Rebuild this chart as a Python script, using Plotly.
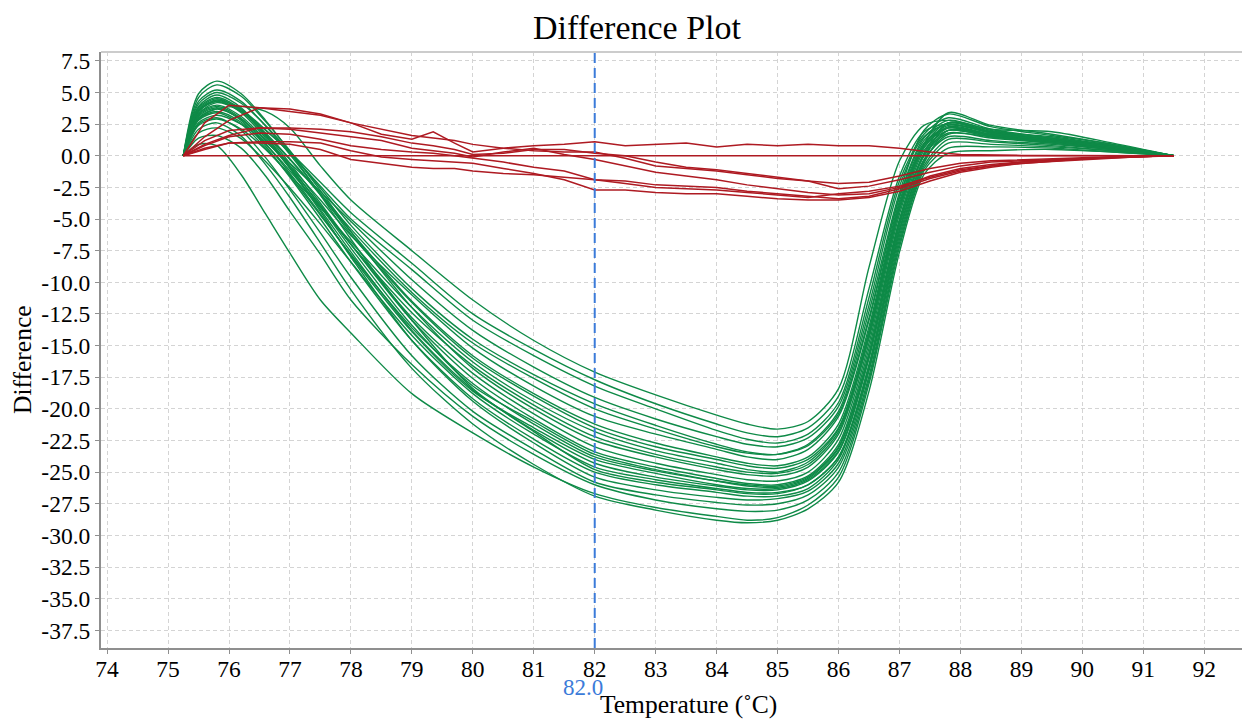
import plotly.graph_objects as go

# ---------------- data ----------------
TEMP_GREEN = [75.25, 75.5, 75.8, 76.2, 76.6, 77.0, 77.5, 78.0, 79.0, 80.0, 81.0, 82.0, 83.0,
              84.0, 84.5, 85.0, 85.5, 86.0, 86.5, 87.0, 87.4, 87.8, 88.5, 89.5, 90.5, 91.5]

G01 = [0, 2.9, 3.7, 3.9, 3.5, 2.2, -0.8, -3.5, -7.5, -11.4, -14.6, -17.1, -18.9, -20.5, -21.2, -21.6, -21.0, -18.4, -8.8, -0.4, 2.4, 2.8, 2.1, 1.9, 1.0, 0]
G02 = [0, 3.3, 4.2, 3.5, 2.0, 0.3, -2.1, -4.5, -8.5, -12.5, -15.3, -17.7, -19.6, -21.2, -21.9, -22.2, -21.5, -19.0, -10.5, -1.6, 1.9, 2.5, 1.9, 1.5, 0.8, 0]
G03 = [0, 3.5, 4.4, 3.65, 2.05, 0.2, -2.4, -5.0, -9.0, -13.0, -15.8, -18.2, -20.0, -21.7, -22.4, -22.7, -22.0, -19.5, -11.2, -2.0, 1.7, 3.0, 2.1, 1.4, 0.8, 0]
G04 = [0, 2.6, 3.2, 2.5, 1.1, -0.6, -2.85, -5.2, -9.8, -13.8, -16.7, -19.1, -20.8, -22.2, -22.8, -23.0, -22.3, -19.8, -11.8, -2.4, 1.5, 2.5, 1.8, 1.3, 0.7, 0]
G05 = [0, 4.1, 5.0, 4.15, 2.4, 0.3, -2.55, -5.5, -10.5, -14.5, -17.3, -19.6, -21.3, -22.8, -23.4, -23.6, -22.8, -20.2, -12.3, -2.9, 2.0, 3.3, 2.3, 1.6, 0.9, 0]
G06 = [0, 3.0, 3.7, 2.9, 1.2, -0.8, -3.5, -6.3, -11.0, -15.2, -18.2, -20.6, -22.0, -23.2, -23.8, -24.0, -23.2, -20.6, -13.0, -3.3, 1.2, 2.6, 1.9, 1.3, 0.7, 0]
G07 = [0, 3.5, 4.3, 3.5, 1.7, -0.3, -3.1, -6.0, -11.5, -15.8, -18.8, -21.2, -22.7, -23.8, -24.3, -24.5, -23.8, -21.2, -13.5, -3.6, 1.0, 2.2, 1.6, 1.2, 0.6, 0]
G08 = [0, 2.4, 2.9, 2.1, 0.5, -1.5, -4.1, -6.8, -12.0, -16.3, -19.4, -21.8, -23.3, -24.3, -24.8, -25.0, -24.2, -21.6, -14.0, -4.0, 0.8, 2.4, 1.8, 1.2, 0.7, 0]
G09 = [0, 4.6, 5.6, 4.7, 2.7, 0.4, -2.75, -6.0, -12.0, -16.8, -20.0, -22.5, -23.8, -24.8, -25.2, -25.3, -24.6, -22.0, -14.4, -4.3, 0.9, 3.4, 2.4, 1.7, 0.9, 0]
G10 = [0, 3.3, 4.0, 3.1, 1.25, -0.95, -3.9, -7.0, -12.8, -17.2, -20.4, -23.0, -24.3, -25.2, -25.6, -25.7, -25.0, -22.4, -14.8, -4.6, 0.6, 2.3, 1.7, 1.2, 0.6, 0]
G11 = [0, 3.8, 4.6, 3.7, 1.7, -0.6, -3.75, -7.0, -13.0, -17.6, -20.8, -23.4, -24.6, -25.5, -25.9, -26.0, -25.3, -22.8, -15.2, -5.0, 0.4, 2.0, 1.5, 1.1, 0.6, 0]
G12 = [0, 2.8, 3.4, 2.5, 0.6, -1.6, -4.7, -7.8, -13.6, -18.0, -21.2, -23.8, -24.9, -25.7, -26.0, -26.1, -25.4, -23.0, -15.6, -5.2, 0.2, 2.6, 1.9, 1.2, 0.7, 0]
G13 = [0, 3.6, 4.4, 3.4, 1.4, -1.0, -4.25, -7.6, -13.8, -18.5, -21.7, -24.3, -25.4, -26.1, -26.4, -26.4, -25.7, -23.4, -16.0, -5.5, 0.0, 1.8, 1.4, 1.0, 0.5, 0]
G14 = [0, 1.8, 2.2, 1.35, -0.45, -2.55, -5.4, -8.4, -14.2, -18.8, -22.0, -24.6, -25.6, -26.3, -26.6, -26.6, -26.0, -23.8, -16.5, -5.8, -0.3, 1.5, 1.2, 0.9, 0.5, 0]
G15 = [0, 3.1, 3.8, 2.8, 0.75, -1.7, -5.0, -8.4, -14.6, -19.2, -22.4, -25.0, -26.0, -26.6, -26.9, -26.9, -26.3, -24.0, -16.8, -6.0, -0.4, 1.7, 1.5, 1.1, 0.6, 0]
G16 = [0, 3.9, 4.8, 3.8, 1.6, -1.0, -4.4, -8.0, -14.6, -19.4, -22.7, -25.4, -26.4, -27.0, -27.2, -27.1, -26.5, -24.3, -17.0, -6.3, -0.6, 2.0, 1.6, 1.1, 0.6, 0]
G17 = [0, 2.5, 3.0, 2.0, -0.15, -2.7, -6.1, -9.6, -15.8, -20.2, -23.2, -25.8, -26.8, -27.4, -27.6, -27.5, -26.8, -24.6, -17.4, -6.6, -0.8, 1.3, 1.1, 0.8, 0.4, 0]
G18 = [0, 1.4, 1.6, 0.6, -1.6, -4.4, -7.8, -11.4, -16.5, -20.6, -23.6, -26.0, -27.2, -27.9, -28.1, -28.0, -27.2, -25.0, -17.7, -6.9, -1.0, 1.0, 0.9, 0.7, 0.4, 0]
G19 = [0, 0.9, 0.8, -1.5, -4.6, -7.7, -11.4, -14.0, -18.8, -21.9, -24.6, -26.7, -27.8, -28.5, -28.8, -28.6, -27.6, -25.4, -18.0, -7.2, -1.2, 0.6, 0.7, 0.6, 0.3, 0]
G20 = [0, 2.1, 2.6, 1.55, -0.7, -3.3, -6.9, -10.6, -16.8, -21.2, -24.4, -26.9, -28.0, -28.8, -29.0, -28.8, -27.9, -25.8, -18.6, -7.6, -1.5, 0.2, 0.4, 0.5, 0.3, 0]
G21 = [0, 3.5, 4.3, 3.5, 1.8, -0.25, -3.0, -5.8, -10.8, -14.8, -17.6, -20.0, -21.6, -23.0, -23.5, -23.6, -22.9, -20.4, -12.8, -3.2, 1.4, 2.8, 2.0, 1.4, 0.8, 0]
G22 = [0, 4.3, 5.2, 4.3, 2.35, 0.1, -3.0, -6.2, -11.6, -16.0, -19.0, -21.5, -23.0, -24.0, -24.5, -24.7, -24.0, -21.5, -13.8, -3.8, 0.9, 2.6, 1.9, 1.3, 0.7, 0]
G23 = [0, 2.9, 3.5, 2.65, 0.9, -1.2, -4.05, -7.0, -12.4, -16.6, -19.7, -22.2, -23.6, -24.6, -25.0, -25.1, -24.4, -21.8, -14.2, -4.2, 0.7, 2.2, 1.7, 1.2, 0.6, 0]
G24 = [0, 3.7, 4.5, 3.55, 1.55, -0.8, -4.0, -7.3, -13.4, -18.2, -21.0, -23.6, -24.8, -25.7, -26.1, -26.2, -25.5, -23.1, -15.7, -5.3, 0.1, 2.2, 1.6, 1.1, 0.6, 0]
G25 = [0, 3.2, 3.9, 2.95, 0.95, -1.4, -4.6, -7.9, -13.9, -18.6, -21.5, -24.0, -25.1, -26.0, -26.3, -26.3, -25.6, -23.3, -15.9, -5.4, 0.0, 2.0, 1.5, 1.0, 0.5, 0]
G26 = [0, 4.9, 5.9, 4.9, 2.8, 0.3, -3.1, -6.6, -13.0, -18.4, -21.8, -24.8, -25.8, -26.4, -26.7, -26.7, -26.0, -23.8, -16.6, -5.9, -0.4, 2.6, 1.8, 1.2, 0.7, 0]

GREEN_CURVES = [G01, G02, G03, G04, G05, G06, G07, G08, G09, G10, G11, G12, G13,
                G14, G15, G16, G17, G18, G19, G20, G21, G22, G23, G24, G25, G26]

TEMP_RED = [75.25, 75.6, 76.0, 76.5, 77.0, 77.5, 78.0, 78.5, 79.0, 79.35, 79.7, 80.0, 80.5, 81.0,
            81.5, 82.0, 82.5, 83.0, 83.5, 84.0, 84.5, 85.0, 85.5, 86.0, 86.5, 87.0, 87.5, 88.0,
            88.5, 89.0, 89.5, 90.0, 90.5, 91.0, 91.5]

R1 = [0, 2.6, 4.0, 3.8, 3.5, 3.2, 2.6, 1.7, 1.3, 1.9, 1.0, 0.3, 0.6, 0.8, 0.9, 1.1, 0.8, 0.9, 1.0, 0.7, 0.9, 0.8, 0.9, 0.8, 0.8, 0.6, 0.3, 0.1, 0.05, 0.03, 0.02, 0.01, 0.0, 0.0, 0.0]
R2 = [0, 1.5, 2.8, 3.8, 3.7, 3.3, 2.6, 2.1, 1.6, 1.4, 1.2, 0.9, 0.6, 0.4, 0.3, 0.3, -0.2, -0.8, -1.0, -1.2, -1.5, -1.8, -2.0, -2.2, -2.1, -1.6, -1.0, -0.6, -0.4, -0.3, -0.2, -0.15, -0.1, -0.05, 0]
R3 = [0, 1.2, 2.0, 2.2, 2.2, 2.1, 1.9, 1.5, 1.0, 0.8, 0.5, 0.1, 0.2, 0.5, 0.5, 0.2, 0.0, -0.5, -0.9, -1.1, -1.4, -1.7, -2.0, -2.6, -2.4, -1.9, -1.3, -0.8, -0.5, -0.4, -0.3, -0.2, -0.1, -0.05, 0]
R4 = [0, 0.9, 1.6, 2.2, 2.1, 1.8, 1.5, 1.2, 0.6, 0.4, 0.2, -0.1, 0.3, 0.6, 0.1, -0.3, -0.8, -1.3, -1.6, -1.9, -2.3, -2.6, -2.9, -3.1, -3.0, -2.5, -1.6, -1.0, -0.7, -0.5, -0.35, -0.2, -0.1, -0.05, 0]
R5 = [0, 0.8, 1.5, 1.8, 1.7, 1.3, 0.8, 0.5, 0.3, 0.2, 0.0, -0.2, -0.5, -0.9, -1.2, -1.9, -2.0, -2.3, -2.4, -2.5, -2.8, -3.0, -3.2, -3.4, -3.2, -2.6, -1.8, -1.2, -0.8, -0.6, -0.4, -0.25, -0.15, -0.05, 0]
R6 = [0, 0.6, 1.0, 1.1, 1.1, 1.0, 0.4, -0.1, -0.3, -0.4, -0.5, -0.6, -1.0, -1.4, -1.9, -2.7, -2.7, -2.9, -3.0, -3.0, -3.2, -3.4, -3.5, -3.5, -3.3, -2.8, -2.0, -1.3, -0.9, -0.6, -0.45, -0.3, -0.15, -0.05, 0]
R7 = [0, 0.5, 1.0, 1.0, 0.9, 0.5, -0.3, -0.6, -0.9, -1.0, -1.0, -1.2, -1.4, -1.5, -1.7, -1.9, -2.2, -2.5, -2.6, -2.7, -2.9, -3.1, -3.3, -3.0, -2.8, -2.4, -1.7, -1.1, -0.8, -0.5, -0.35, -0.2, -0.1, -0.05, 0]

RED_CURVES = [R1, R2, R3, R4, R5, R6, R7]

REF_TEMP = [75.25, 91.5]
REF_DIFF = [0.0, 0.0]

CURSOR_TEMP = 82.0

X_TICKS = [74, 75, 76, 77, 78, 79, 80, 81, 82, 83, 84, 85, 86, 87, 88, 89, 90, 91, 92]
Y_TICKS = [7.5, 5.0, 2.5, 0.0, -2.5, -5.0, -7.5, -10.0, -12.5, -15.0, -17.5, -20.0, -22.5,
           -25.0, -27.5, -30.0, -32.5, -35.0, -37.5]

# ---------------- figure ----------------
GREEN = "#0e8a47"
RED = "#ae1a22"
BLUE = "#3b7bd9"
FONT = "Liberation Serif"

# the page body adds an 8 px offset; the figure is sized so the plot lands where the reference has it
OFF = 8
W, H = 1250 - OFF, 719 - OFF
L, T, B = 101 - OFF, 52 - OFF, 71
PW, PH = W - L, H - T - B

fig = go.Figure()

for ys in GREEN_CURVES:
    fig.add_trace(go.Scatter(x=TEMP_GREEN, y=ys, mode="lines",
                             line=dict(color=GREEN, width=1.4, shape="spline", smoothing=0.8),
                             showlegend=False, hoverinfo="skip"))

fig.add_trace(go.Scatter(x=REF_TEMP, y=REF_DIFF, mode="lines",
                         line=dict(color=RED, width=1.5), showlegend=False, hoverinfo="skip"))
for ys in RED_CURVES:
    fig.add_trace(go.Scatter(x=TEMP_RED, y=ys, mode="lines",
                             line=dict(color=RED, width=1.5),
                             showlegend=False, hoverinfo="skip"))

fig.update_layout(
    width=W, height=H,
    margin=dict(l=L, r=0, t=T, b=B, autoexpand=False),
    paper_bgcolor="white", plot_bgcolor="white",
    font=dict(family=FONT, size=23, color="black"),
    title=dict(text="Difference Plot", x=(637 - OFF) / W, xref="container", xanchor="center",
               y=1 - (27 - OFF) / H, yref="container", yanchor="middle",
               font=dict(family=FONT, size=34, color="black")),
    xaxis=dict(range=[73.9, 92.75], tickvals=X_TICKS, ticktext=[str(v) for v in X_TICKS],
               showgrid=True, gridcolor="#d4d4d4", griddash="4px,3px", gridwidth=1,
               showline=True, linecolor="#8f8f8f", linewidth=2,
               ticks="outside", ticklen=4, tickcolor="#8f8f8f", ticklabelstandoff=-5,
               zeroline=False, tickfont=dict(family=FONT, size=23.5)),
    yaxis=dict(range=[-38.9, 8.2], tickvals=Y_TICKS, ticktext=[f"{v:.1f}" for v in Y_TICKS],
               showgrid=True, gridcolor="#d4d4d4", griddash="4px,3px", gridwidth=1,
               showline=True, linecolor="#8f8f8f", linewidth=2,
               ticks="outside", ticklen=4, tickcolor="#8f8f8f",
               zeroline=False, tickfont=dict(family=FONT, size=23.5)),
)

# top border
fig.add_shape(type="line", xref="paper", yref="paper", x0=0, x1=1, y0=1, y1=1,
              line=dict(color="#cccccc", width=2))
# cursor line
fig.add_shape(type="line", xref="x", yref="paper", x0=CURSOR_TEMP, x1=CURSOR_TEMP, y0=0, y1=1,
              line=dict(color=BLUE, width=2, dash="10px,5px"))

fig.add_annotation(x=CURSOR_TEMP, y=0, xref="x", yref="paper", text=f"{CURSOR_TEMP:.1f}",
                   showarrow=False, xanchor="center", yanchor="middle", xshift=-12, yshift=-39,
                   font=dict(family=FONT, size=23, color=BLUE))
fig.add_annotation(x=(688 - 101) / PW, y=0, xref="paper", yref="paper",
                   text="Temperature (˚C)", showarrow=False, xanchor="center", yanchor="middle",
                   yshift=-56, font=dict(family=FONT, size=25.5, color="black"))
fig.add_annotation(x=(22 - 101) / PW, y=(648 - 360) / PH, xref="paper", yref="paper",
                   text="Difference", textangle=-90, showarrow=False,
                   xanchor="center", yanchor="middle",
                   font=dict(family=FONT, size=25.5, color="black"))

fig.write_html("out.html")
